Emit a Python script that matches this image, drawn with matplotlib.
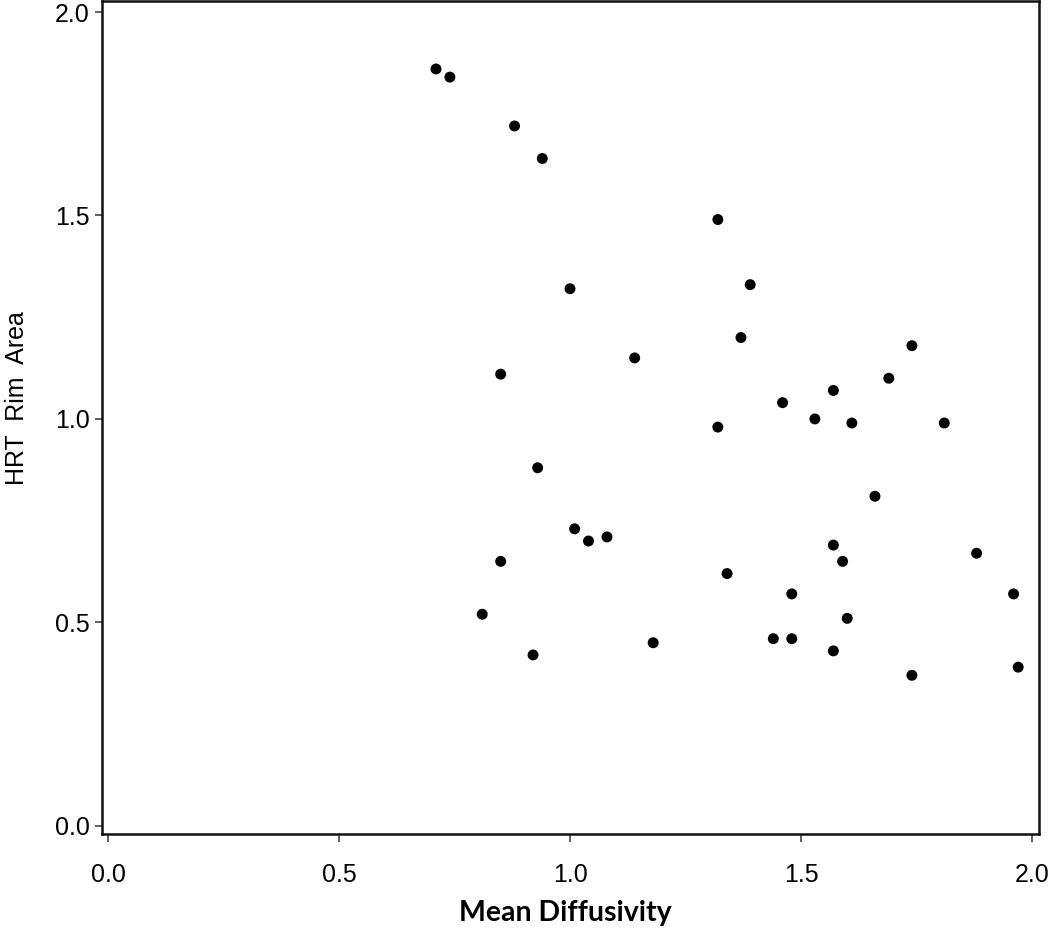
import numpy as np
from matplotlib import pyplot as plt

# Mean diffusivity vs HRT rim area
mean_diff = [0.71, 0.74, 0.88, 0.94, 1.32, 1.39, 1.00, 1.37, 1.14, 1.74,
             0.85, 1.69, 1.57, 1.46, 1.53, 1.61, 1.81, 1.32, 0.93, 1.66,
             1.01, 1.04, 1.08, 1.57, 0.85, 1.34, 1.59, 1.88, 1.48, 1.96,
             0.81, 1.60, 1.44, 1.48, 1.18, 1.57, 0.92, 1.97, 1.74]
rim_area = [1.86, 1.84, 1.72, 1.64, 1.49, 1.33, 1.32, 1.20, 1.15, 1.18,
            1.11, 1.10, 1.07, 1.04, 1.00, 0.99, 0.99, 0.98, 0.88, 0.81,
            0.73, 0.70, 0.71, 0.69, 0.65, 0.62, 0.65, 0.67, 0.57, 0.57,
            0.52, 0.51, 0.46, 0.46, 0.45, 0.43, 0.42, 0.39, 0.37]
x_ticks = [0.0, 0.5, 1.0, 1.5, 2.0]
y_ticks = [0.0, 0.5, 1.0, 1.5, 2.0]

plt.rcParams['font.family'] = ['Liberation Sans', 'DejaVu Sans']

fig = plt.figure(figsize=(10.5, 9.33), dpi=100)
ax = fig.add_axes([0.0971, 0.1061, 0.8924, 0.8928])

ax.scatter(mean_diff, rim_area, s=62, color='black', edgecolors='none', zorder=3)

ax.set_xlim(-0.013, 2.015)
ax.set_ylim(-0.02, 2.027)
ax.set_xticks(x_ticks)
ax.set_yticks(y_ticks)
ax.set_xticklabels([f'{t:.1f}' for t in x_ticks])
ax.set_yticklabels([f'{t:.1f}' for t in y_ticks])

for side in ['left', 'bottom', 'right', 'top']:
    ax.spines[side].set_linewidth(1.8)
    ax.spines[side].set_color('#111111')

ax.tick_params(axis='x', direction='out', length=6, width=1.2, color='#444444',
               labelsize=18, pad=15)
ax.tick_params(axis='y', direction='out', length=5, width=1.2, color='#444444',
               labelsize=18, pad=4)

ax.set_xlabel('Mean Diffusivity', family=['Lato', 'DejaVu Sans'], fontweight='bold',
              fontsize=20.5)
ax.xaxis.set_label_coords(0.494, -0.079)
ax.set_ylabel('HRT  Rim  Area', fontsize=18)
ax.yaxis.set_label_coords(-0.078, 0.523)

plt.savefig('out.png', dpi=100)
plt.close('all')
